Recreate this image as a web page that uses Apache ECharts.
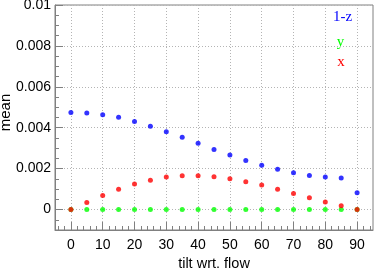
<!DOCTYPE html>
<html><head><meta charset="utf-8">
<script src="https://cdn.jsdelivr.net/npm/echarts@6/dist/echarts.min.js"></script>
<style>html,body{margin:0;padding:0;background:#fff}#c{width:374px;height:271px}</style>
</head><body><div id="c"></div>
<script>
const tilt = [0,5,10,15,20,25,30,35,40,45,50,55,60,65,70,75,80,85,90];
const oneMinusZ = [0.00475,0.00472,0.00464,0.00451,0.00431,0.00407,0.0038,0.00353,0.00324,0.00294,0.00267,0.0024,0.00216,0.00197,0.0018,0.00167,0.00159,0.00154,0.00082];
const yVals = [0,0,0,0,0,0,0,0,0,0,0,0,0,0,0,0,0,0,0];
const xVals = [0,0.00035,0.00069,0.00099,0.00125,0.00143,0.00159,0.00165,0.00165,0.0016,0.00151,0.00136,0.0012,0.00099,0.00079,0.00058,0.00037,0.00019,0];
const seriesNames = ['1-z','y','x'];
const seriesColors = ['#0000ff','#00ff00','#ff0000'];
const xMajorTicks = [0,10,20,30,40,50,60,70,80,90];
const xMinorTicks = [-4,-2,0,2,4,6,8,10,12,14,16,18,20,22,24,26,28,30,32,34,36,38,40,42,44,46,48,50,52,54,56,58,60,62,64,66,68,70,72,74,76,78,80,82,84,86,88,90,92,94];
const yMajorTicks = [0,0.002,0.004,0.006,0.008,0.01];

const chart = echarts.init(document.getElementById('c'), null, {renderer:'canvas'});
const axisColor = '#808080';
const gridLine = {show:true, lineStyle:{color:'#b4b4b4', type:[1,2], width:1}};
const labelFont = {color:'#000', fontFamily:'Liberation Sans', fontSize:14};
function mk(vals){ return tilt.map((t,i)=>[t, vals[i]]); }
const dataSets = [oneMinusZ, yVals, xVals];

chart.setOption({
  animation:false,
  grid:{left:55, top:5, right:1, bottom:41, show:true, borderColor:axisColor, borderWidth:1, outerBoundsMode:'none', containLabel:false},
  xAxis:[{
    type:'value', min:-5, max:95, position:'bottom',
    axisLine:{show:true, onZero:false, lineStyle:{color:axisColor}},
    axisTick:{show:true, inside:true, length:8, customValues:xMajorTicks, lineStyle:{color:axisColor}},
    axisLabel:Object.assign({customValues:xMajorTicks, margin:8}, labelFont),
    splitLine:gridLine,
    name:'tilt wrt. flow', nameLocation:'middle', nameGap:26, nameMoveOverlap:false,
    nameTextStyle:{color:'#000', fontFamily:'Liberation Sans', fontSize:14.5}
  },{
    type:'value', min:-5, max:95, position:'bottom', offset:0,
    axisLine:{show:false, onZero:false},
    axisTick:{show:true, inside:true, length:4, customValues:xMinorTicks, lineStyle:{color:axisColor}},
    axisLabel:{show:false}, splitLine:{show:false}
  }],
  yAxis:[{
    type:'value', min:-0.001, max:0.01, position:'left',
    axisLine:{show:true, onZero:false, lineStyle:{color:axisColor}},
    axisTick:{show:true, inside:true, length:8, customValues:yMajorTicks, lineStyle:{color:axisColor}},
    axisLabel:Object.assign({customValues:yMajorTicks, margin:4, formatter:v=>String(v)}, labelFont),
    splitLine:gridLine,
    name:'mean', nameLocation:'middle', nameGap:42, nameMoveOverlap:false,
    nameTextStyle:{color:'#000', fontFamily:'Liberation Sans', fontSize:15, padding:[0,0,0,10]}
  },{
    type:'value', min:-0.001, max:0.01, interval:0.0005, position:'left', offset:0,
    axisLine:{show:false, onZero:false},
    axisTick:{show:true, inside:true, length:4, lineStyle:{color:axisColor}},
    axisLabel:{show:false}, splitLine:{show:false}
  }],
  series: seriesNames.map((n,i)=>({
    name:n, type:'scatter', xAxisIndex:0, yAxisIndex:0,
    symbol:'circle', symbolSize:5, itemStyle:{color:seriesColors[i]},
    data: mk(dataSets[i]), z: 2+i
  })),
  graphic: [
    {type:'text', x:342.5, y:17, style:{text:seriesNames[0], fill:seriesColors[0], font:'15px "Liberation Serif"', align:'center', verticalAlign:'middle'}},
    {type:'text', x:340.5, y:42, style:{text:seriesNames[1], fill:seriesColors[1], font:'15px "Liberation Serif"', align:'center', verticalAlign:'middle'}},
    {type:'text', x:341, y:62, style:{text:seriesNames[2], fill:seriesColors[2], font:'15px "Liberation Serif"', align:'center', verticalAlign:'middle'}}
  ]
});
</script></body></html>
